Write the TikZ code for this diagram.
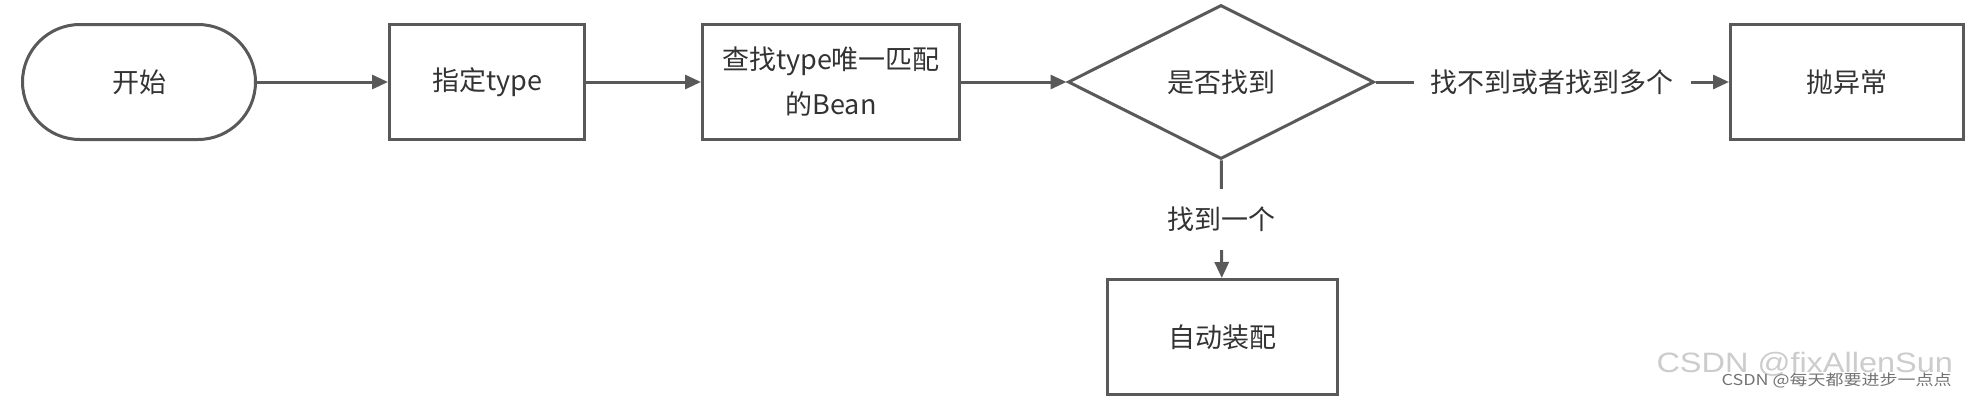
\documentclass[tikz,border=0pt]{standalone}
\usepackage{fontspec}
\usepackage{tikz}
\usetikzlibrary{arrows.meta,shapes.geometric}
\newfontfamily\cjk{Noto Sans CJK SC}
\newfontfamily\markfont{Liberation Sans}
\definecolor{linegray}{HTML}{595959}
\definecolor{textgray}{HTML}{333333}
\begin{document}
\begin{tikzpicture}[x=1pt,y=-1pt,line width=3pt,>={Triangle[length=16pt,width=14pt]},
  box/.style={draw=linegray,fill=white,minimum width=195pt,minimum height=115pt,inner sep=0pt,text=textgray,align=center,font={\cjk\fontsize{27}{45}\selectfont}},
  terminal/.style={box,minimum width=233pt,rounded corners=57.5pt},
  decision/.style={box,diamond,aspect=2,minimum width=306pt,minimum height=154pt},
  lbl/.style={fill=white,inner xsep=17pt,inner ysep=18pt,text=textgray,font={\cjk\fontsize{27}{45}\selectfont}}]
\useasboundingbox (0,0) rectangle (1985,400);
\node[terminal] (start) at (139,82) {开始};
\node[box] (settype) at (487,82) {指定type};
\node[box,minimum width=257pt] (lookup) at (831,82) {查找type唯一匹配\\的Bean};
\node[decision] (found) at (1221,82) {是否找到};
\node[box,minimum width=233pt] (throw) at (1847,82) {抛异常};
\node[box,minimum width=230pt] (inject) at (1222,337) {自动装配};
\draw[linegray,->] (start) -- (settype);
\draw[linegray,->] (settype) -- (lookup);
\draw[linegray,->] (lookup) -- (found);
\draw[linegray,->] (found) -- node[lbl] {找不到或者找到多个} (throw);
\draw[linegray,->] (found) -- node[lbl] {找到一个} (inject);
% watermark
\node[anchor=base west,inner sep=0pt,text=black!20,font={\markfont\fontsize{28}{28}\selectfont}] (mark) at (1655,372) {\scalebox{1.16}[1]{CSDN @fixAllenSun}};
\node[anchor=base west,inner sep=0pt,text=black!55,font={\cjk\fontsize{15}{15}\selectfont}] (author) at (1720,385) {\scalebox{1.2}[1]{CSDN @每天都要进步一点点}};
\end{tikzpicture}
\end{document}
